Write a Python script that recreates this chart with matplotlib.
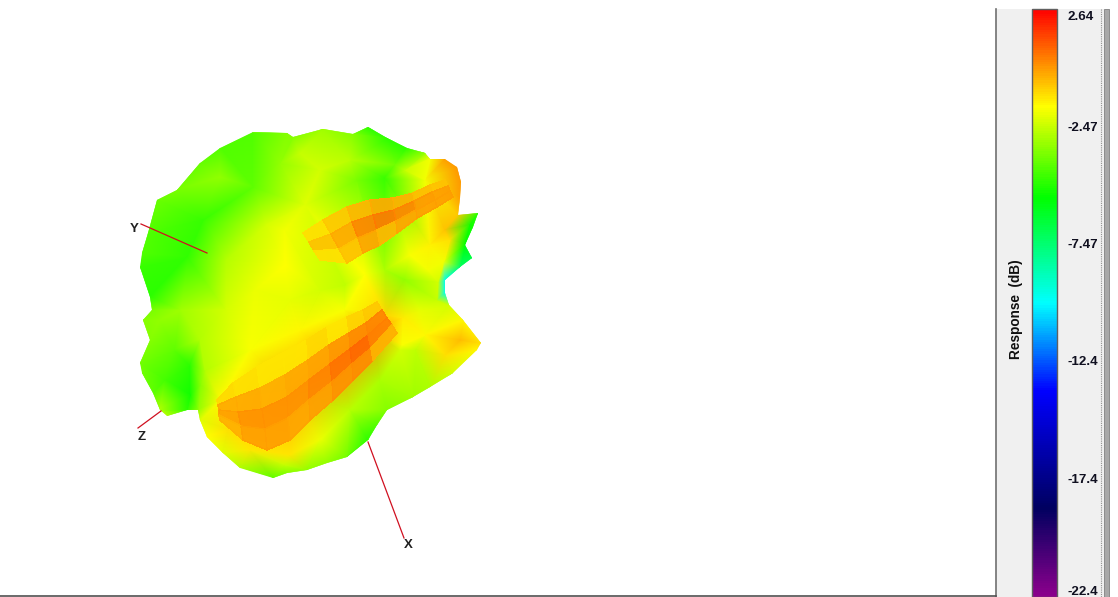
import numpy as np
import matplotlib
matplotlib.use("Agg")
import matplotlib.pyplot as plt
from matplotlib.colors import LinearSegmentedColormap, Normalize
from matplotlib.patches import Polygon, Rectangle
from matplotlib.tri import Triangulation
from matplotlib.cm import ScalarMappable

plt.rcParams['font.family'] = ['Liberation Sans', 'DejaVu Sans']

W, H = 1118, 597
VMIN, VMAX = -22.7, 2.945

tick_values = [2.64, -2.2, -7.3, -12.4, -17.55, -22.4]
tick_labels = ["2.64", "-2.47", "-7.47", "-12.4", "-17.4", "-22.4"]
colorbar_label = "Response  (dB)"

# silhouette of the response balloon: screen x, y, response
outline_x = [253,287,293,323,353,368,387,407,425,430,445,457,461,460,458,478,473,465,472,460,445,445,449,463,481,477,453,430,413,387,377,368,347,327,307,287,273,240,223,207,200,198,187,167,160,153,142,140,150,143,152,150,140,142,148,157,177,200,220]
outline_y = [132,133,137,129,134,127,138,148,153,159,159,167,182,198,215,213,227,245,258,267,280,293,305,320,343,350,373,387,397,410,425,440,457,463,470,473,478,468,453,437,420,410,410,416,410,393,373,363,340,320,310,297,267,253,233,200,190,163,148]
outline_db = [-4.0,-3.2,-3.2,-2.8,-3.2,-4.6,-4.6,-4.6,-3,-1.5,0.3,0.4,0.4,0.3,-0.4,-4.5,-5,-5.3,-6.5,-7,-9.5,-9.5,-2,-1.2,-0.8,-1.2,-2,-2.6,-2.8,-3.2,-4,-4.6,-3.5,-3,-3,-3.2,-3.8,-2.6,-1.8,-1.3,-1.8,-3,-4.6,-2.5,-2.5,-3.8,-3.5,-3.5,-3.2,-3.2,-3.4,-4.6,-4.4,-4,-4,-3.6,-3.4,-3.7,-4.0]

# interior surface samples: screen x, y, response
inner_x = [187,203,253,280,220,300,320,350,357,385,395,405,425,305,265,225,180,160,285,285,255,225,200,290,320,345,365,385,405,410,430,445,428,437,420,425,460,445,415,400,380,350,320,285,165,190,175,190,200,205,220,228,250,290,290,340,375,385,345,300,250,470,450,444,438,403,402]
inner_y = [257,220,187,163,177,153,170,160,180,178,165,170,180,205,225,260,310,320,230,265,290,310,340,300,290,285,275,270,280,255,245,230,270,300,310,335,340,355,350,350,380,410,440,465,380,395,350,365,385,370,400,430,450,455,390,360,330,315,310,330,350,225,240,262,282,318,345]
inner_db = [-4.5,-4.4,-3.8,-3.0,-3.0,-2.2,-2.0,-2.4,-3.4,-4.4,-3.5,-2.2,-1.5,-1.8,-2.0,-2.5,-2.8,-3,-1.5,-1.3,-1.6,-2.0,-2.5,-1.7,-2.0,-2.3,-1.3,-2.6,-3,-1.4,-1.1,-0.3,-1.5,-2.2,-1.7,-1.2,-0.2,-0.8,-2.3,-2,-2.6,-2.4,-1.6,-2.2,-4.2,-5,-3.8,-4.6,-3.2,-2.5,-1.2,-0.8,-0.9,-0.9,0.2,0.5,0.5,-0.6,-1.4,-1.2,-1.4,-5,-0.8,-1.5,-2,-1.0,-1.4]

# lower ridge: edge polylines and flat facet responses
ridge1_upper_x = [217,233,257,283,307,327,347,363,377]
ridge1_upper_y = [400,383,367,353,340,327,317,310,302]
ridge1_lower_x = [220,243,267,290,310,333,353,373,397]
ridge1_lower_y = [420,440,450,440,420,400,380,360,333]
ridge1_db = [[-0.7,-0.8,-0.9,-0.9,-0.7,-0.9,-0.6,-0.4],
             [0.1,0.1,0.0,0.05,0.2,0.35,0.6,0.7],
             [0.3,0.45,0.45,0.5,0.7,0.95,1.2,0.8],
             [0.0,0.25,0.25,0.2,0.3,0.5,0.6,0.0]]

# upper ridge
ridge2_upper_x = [303,323,347,370,393,413,430,445]
ridge2_upper_y = [233,220,207,200,198,193,185,180]
ridge2_lower_x = [320,347,363,380,397,417,437,453]
ridge2_lower_y = [260,263,253,245,233,218,207,197]
ridge2_db = [[-0.8,-0.4,-0.1,0.1,0.0,-0.2,-0.3],
             [-0.3,0.1,0.7,0.9,0.7,0.4,0.3],
             [-0.8,-0.3,0.2,-0.1,0.2,0.3,0.3]]

# axis triad: line ends and label positions
axis_names = ["X", "Y", "Z"]
axis_x0 = [368, 207, 161]
axis_y0 = [442, 253, 411]
axis_x1 = [404, 141, 138]
axis_y1 = [538, 224, 428]
axis_label_x = [408, 134, 142]
axis_label_y = [545, 229, 437]

response_cmap = LinearSegmentedColormap.from_list("response", [
    (0.0, "#8c008c"), (0.15, "#000060"), (0.35, "#0000ff"), (0.5, "#00ffff"),
    (0.68, "#00ff00"), (0.835, "#ffff00"), (1.0, "#ff0000")])
norm = Normalize(VMIN, VMAX)

fig = plt.figure(figsize=(W / 100, H / 100), dpi=100, facecolor="white")
ax = fig.add_axes([0, 0, 1, 1])
ax.set_xlim(0, W)
ax.set_ylim(H, 0)
ax.axis("off")

# side panel
ax.add_patch(Rectangle((996, 9), 108, H - 9, fc="#f0f0f0", ec="none"))
ax.plot([996, 996], [9, H], color="#707070", lw=1.2)
ax.plot([1100.5, 1100.5], [9, H], color="#909090", lw=0.8, ls=(0, (1, 1)))
ax.add_patch(Rectangle((1104, 9), 5, H - 9, fc="#a8a8a8", ec="#808080", lw=0.6))
ax.plot([0, 996], [596, 596], color="#505050", lw=1.2)

# surface
px = np.array(outline_x + inner_x, float)
py = np.array(outline_y + inner_y, float)
pv = np.array(outline_db + inner_db, float)
clip = Polygon(np.column_stack([outline_x, outline_y]), closed=True, transform=ax.transData, fc="none", ec="none")
ax.add_patch(clip)
mesh = ax.tripcolor(Triangulation(px, py), pv, shading="gouraud", cmap=response_cmap, norm=norm, zorder=2)
mesh.set_clip_path(clip)


def ridge(ux, uy, lx, ly, values):
    vals = np.array(values, float)
    t = np.linspace(0, 1, vals.shape[0] + 1)[:, None]
    gx = np.array(ux)[None, :] * (1 - t) + np.array(lx)[None, :] * t
    gy = np.array(uy)[None, :] * (1 - t) + np.array(ly)[None, :] * t
    m = ax.pcolormesh(gx, gy, vals, cmap=response_cmap, norm=norm, shading="flat",
                      edgecolors="face", linewidth=0.3, zorder=3, alpha=0.92)
    m.set_clip_path(clip)


ridge(ridge1_upper_x, ridge1_upper_y, ridge1_lower_x, ridge1_lower_y, ridge1_db)
ridge(ridge2_upper_x, ridge2_upper_y, ridge2_lower_x, ridge2_lower_y, ridge2_db)

# triad
for name, x0, y0, x1, y1, lx, ly in zip(axis_names, axis_x0, axis_y0, axis_x1, axis_y1, axis_label_x, axis_label_y):
    ax.plot([x0, x1], [y0, y1], color="#d01020", lw=0.9, zorder=4)
    ax.text(lx, ly, name, ha="center", va="center", fontsize=9.5, fontweight="bold", color="#202020", zorder=5)

# colorbar
cax = fig.add_axes([1032 / W, 0, 25 / W, (H - 9) / H])
cb = fig.colorbar(ScalarMappable(norm=norm, cmap=response_cmap), cax=cax)
cb.set_ticks(tick_values)
cb.set_ticklabels(tick_labels)
cb.ax.tick_params(length=0, pad=7.5, labelsize=9.6, labelcolor="#101020")
cb.outline.set_edgecolor("#606060")
cb.outline.set_linewidth(1.0)
for t in cb.ax.get_yticklabels():
    t.set_fontweight("bold")
ax.text(1016, 309, colorbar_label, rotation=90, ha="center", va="center",
        fontsize=9.8, fontweight="bold", color="#101010")

fig.savefig("out.png", dpi=100)
